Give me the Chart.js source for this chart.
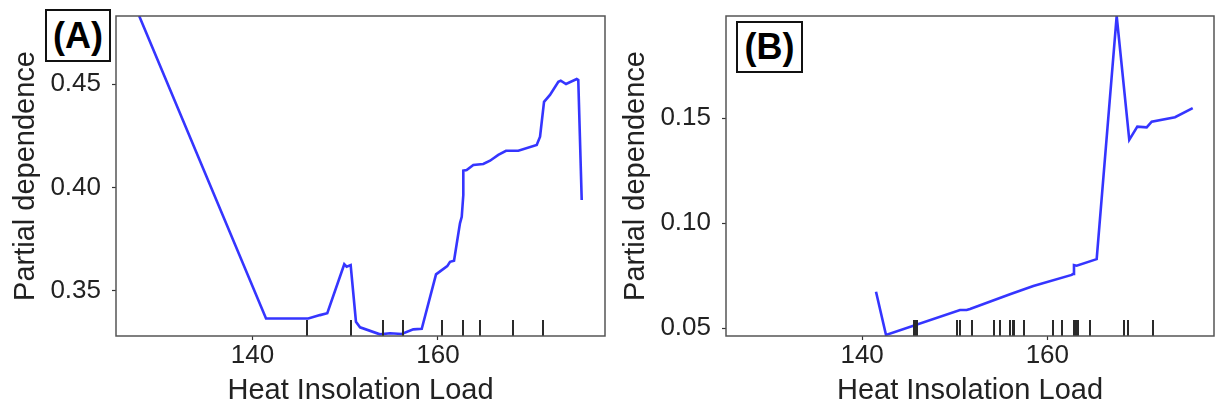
<!DOCTYPE html>
<html>
<head>
<meta charset="utf-8">
<script src="https://cdn.jsdelivr.net/npm/chart.js@4"></script>
<style>
  html, body { margin: 0; padding: 0; background: #fff; }
  body { width: 1217px; height: 406px; position: relative; overflow: hidden; font-family: "Liberation Sans", Arial, sans-serif; }
  canvas { position: absolute; top: 0; }
  #cA { left: 0; }
  #cB { left: 610px; }
  .tag { position: absolute; box-sizing: border-box; border: 2px solid #111; background: #fff;
         font: bold 36px "Liberation Sans", Arial, sans-serif; color: #000;
         display: flex; align-items: center; justify-content: center; line-height: 1; }
  #tagA { left: 45px; top: 9px; width: 66px; height: 53px; }
  #tagB { left: 736px; top: 21px; width: 67px; height: 52px; }
</style>
</head>
<body>
<canvas id="cA" width="610" height="406"></canvas>
<canvas id="cB" width="607" height="406"></canvas>
<div class="tag" id="tagA">(A)</div>
<div class="tag" id="tagB">(B)</div>
<script>
// ---- Data ----
const xTickValues = [140, 160];
const xTickLabels = ["140", "160"];
const xTitle = "Heat Insolation Load";
const yTitle = "Partial dependence";

// Panel A
const aX = [127.8, 141.47, 146.02, 147.28, 148.07, 149.9, 150.16, 150.59, 151.16, 151.6, 153.75, 154.83, 156.09, 157.34, 158.25, 159.79, 161.0, 161.3, 161.73, 162.37, 162.56, 162.73, 162.73, 163.09, 163.81, 164.88, 165.61, 166.5, 167.33, 168.66, 170.64, 171.0, 171.43, 172.07, 172.97, 173.23, 173.8, 174.95, 175.12, 175.49];
const aY = [0.4829, 0.3366, 0.3366, 0.3382, 0.3391, 0.3628, 0.3616, 0.3624, 0.335, 0.3323, 0.3289, 0.3294, 0.3291, 0.3313, 0.3316, 0.3579, 0.3619, 0.364, 0.3645, 0.3826, 0.3858, 0.3963, 0.4081, 0.4084, 0.4108, 0.4113, 0.4129, 0.4157, 0.4177, 0.4177, 0.4205, 0.4245, 0.4414, 0.4447, 0.4511, 0.4516, 0.45, 0.4524, 0.4519, 0.3939];
const aRug = [145.85, 150.63, 154.11, 156.2, 160.4, 162.73, 164.53, 168.12, 171.29];
const aYTickValues = [0.35, 0.40, 0.45];
const aYTickLabels = ["0.35", "0.40", "0.45"];
const aYRange = [0.3281, 0.4829];

// Panel B
const bX = [141.5, 142.58, 150.57, 151.29, 151.65, 155.97, 158.49, 162.63, 162.8, 162.88, 163.17, 165.33, 167.49, 168.85, 169.72, 170.73, 171.27, 173.79, 175.7];
const bY = [0.0674, 0.0468, 0.0587, 0.0587, 0.0592, 0.0662, 0.0701, 0.0754, 0.0759, 0.0801, 0.0798, 0.0829, 0.1987, 0.1397, 0.146, 0.1457, 0.1484, 0.1505, 0.1548];
const bRug = [145.55, 145.76, 145.98, 150.28, 150.57, 151.9, 154.24, 154.89, 156.02, 156.24, 156.4, 157.51, 160.56, 161.58, 162.93, 163.15, 163.31, 164.63, 168.28, 168.68, 171.44];
const bYTickValues = [0.05, 0.10, 0.15];
const bYTickLabels = ["0.05", "0.10", "0.15"];
const bYRange = [0.0463, 0.1987];

const xRange = [125.3, 178.0];

// ---- Drawing ----
const FONT = "'Liberation Sans', Arial, sans-serif";

const framePlugin = {
  id: 'frameRug',
  afterDatasetsDraw(chart, args, opts) {
    const { ctx, chartArea: { left, top, right, bottom }, scales: { x } } = chart;
    ctx.save();
    ctx.strokeStyle = '#2a2a2a';
    ctx.lineWidth = 2;
    const h = (bottom - top) * 0.05;
    (opts.rug || []).forEach(v => {
      const px = Math.round(x.getPixelForValue(v));
      ctx.beginPath();
      ctx.moveTo(px, bottom);
      ctx.lineTo(px, bottom - h);
      ctx.stroke();
    });
    ctx.strokeStyle = '#555';
    ctx.lineWidth = 1.5;
    ctx.strokeRect(left, top, right - left, bottom - top);
    ctx.restore();
  }
};

function makeChart(id, xs, ys, rug, yVals, yLabels, yRange, padRight) {
  const pts = xs.map((x, i) => ({ x: x, y: ys[i] }));
  return new Chart(document.getElementById(id), {
    type: 'line',
    data: {
      datasets: [{
        data: pts,
        borderColor: 'rgba(25,25,255,0.88)',
        borderWidth: 2.6,
        pointRadius: 0,
        tension: 0,
        fill: false
      }]
    },
    options: {
      responsive: false,
      animation: false,
      events: [],
      layout: { padding: { top: 16, right: padRight, left: 0, bottom: 0 } },
      plugins: {
        legend: { display: false },
        tooltip: { enabled: false },
        frameRug: { rug: rug }
      },
      scales: {
        x: {
          type: 'linear',
          min: xRange[0], max: xRange[1],
          afterBuildTicks: s => { s.ticks = xTickValues.map(v => ({ value: v })); },
          afterFit: s => { s.height = 70; s.paddingLeft = 0; s.paddingRight = 0; },
          ticks: {
            autoSkip: false, maxRotation: 0, padding: 0,
            color: '#222', font: { family: FONT, size: 26 },
            callback: v => xTickLabels[xTickValues.indexOf(v)]
          },
          grid: { drawOnChartArea: false, drawTicks: true, tickLength: 4, color: '#333', tickWidth: 1.2 },
          border: { display: false },
          title: { display: true, text: xTitle, color: '#222', font: { family: FONT, size: 29, lineHeight: 1 }, padding: { top: 0, bottom: 1 } }
        },
        y: {
          type: 'linear',
          min: yRange[0], max: yRange[1],
          afterBuildTicks: s => { s.ticks = yVals.map(v => ({ value: v })); },
          afterFit: s => { s.width = 116; s.paddingTop = 0; s.paddingBottom = 0; },
          ticks: {
            autoSkip: false, padding: 11,
            color: '#222', font: { family: FONT, size: 26 },
            callback: v => yLabels[yVals.indexOf(v)]
          },
          grid: { drawOnChartArea: false, drawTicks: true, tickLength: 4, color: '#333', tickWidth: 1.2 },
          border: { display: false },
          title: { display: true, text: yTitle, color: '#222', font: { family: FONT, size: 29, lineHeight: 1 }, padding: { top: 11, bottom: 0 } }
        }
      }
    },
    plugins: [framePlugin]
  });
}

makeChart('cA', aX, aY, aRug, aYTickValues, aYTickLabels, aYRange, 5);
makeChart('cB', bX, bY, bRug, bYTickValues, bYTickLabels, bYRange, 3);
</script>
</body>
</html>
